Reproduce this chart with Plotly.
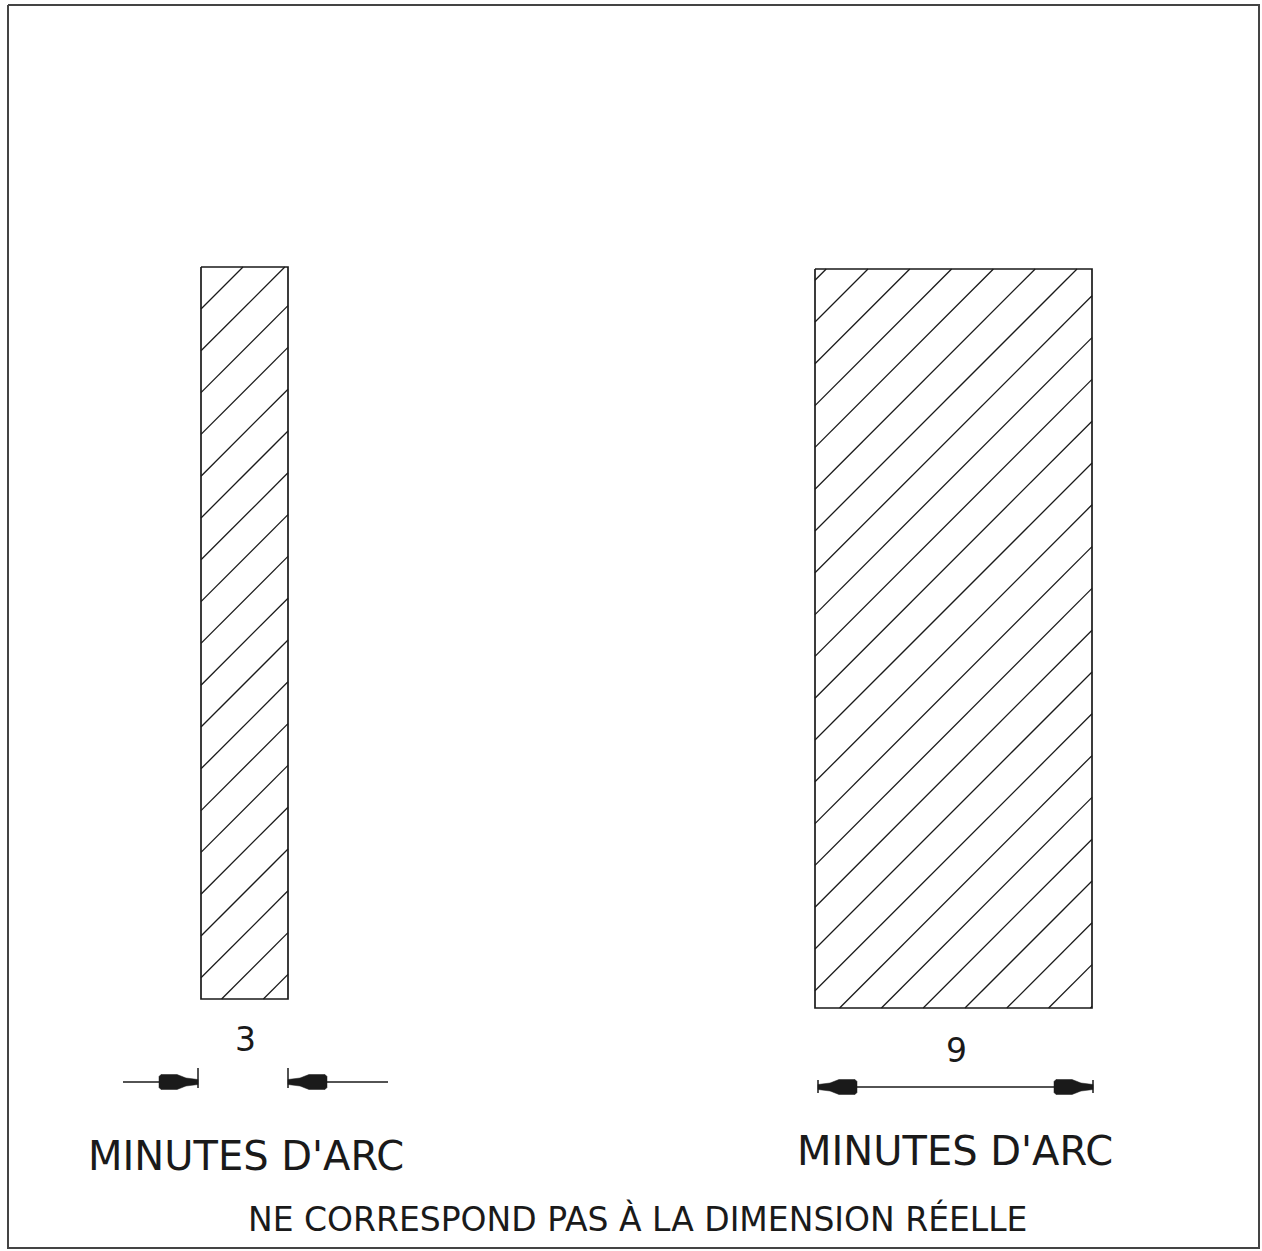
import math

import plotly.graph_objects as go

# Content of the drawing
WIDTHS_ARCMIN = [3, 9]
WIDTH_LABELS = [str(w) for w in WIDTHS_ARCMIN]
UNIT_LABEL = "MINUTES D'ARC"
NOTE = "NE CORRESPOND PAS À LA DIMENSION RÉELLE"

# Page geometry, in pixels with y pointing down (axes map 1:1 to the page)
W, H = 1262, 1251
INK = "#1a1a1a"
FONT = "DejaVu Sans, Liberation Sans, Arial, sans-serif"
FRAME = (8, 5, 1259, 1248)
HATCH_STEP = 41.8

BARS = [
    dict(x0=201, x1=288, y0=267, y1=999, hatch0=510),
    dict(x0=815, x1=1092, y0=269, y1=1008, hatch0=1137),
]
DIMS = [
    dict(y=1082, ticks=(198, 288), tick_span=(-14, 6),
         segments=[(123, 198), (288, 388)], arrows=[(198, 1), (288, -1)],
         label_xy=(245, 1039), unit_xy=(246, 1156)),
    dict(y=1087, ticks=(818, 1093), tick_span=(-7, 6),
         segments=[(818, 1093)], arrows=[(818, -1), (1093, 1)],
         label_xy=(956, 1050), unit_xy=(955, 1151)),
]
NOTE_XY = (637, 1219)

# arrowhead outline: (distance back from tip, half-offset across the line)
HEAD = [(0, -2.5), (12, -4), (21, -7.5), (37, -7.5), (39, -5.5),
        (39, 5.5), (37, 7.5), (21, 7.5), (12, 4), (0, 2.5)]


def _line(xs, ys, width=1.5, color=INK):
    return go.Scatter(x=xs, y=ys, mode="lines", hoverinfo="skip",
                      line=dict(color=color, width=width), showlegend=False)


def hatch(bar):
    """45 degree hatch segments (x + y = c) clipped to a rectangle."""
    x0, x1, y0, y1, c0 = bar["x0"], bar["x1"], bar["y0"], bar["y1"], bar["hatch0"]
    k_lo = math.ceil((x0 + y0 - c0) / HATCH_STEP)
    k_hi = math.floor((x1 + y1 - c0) / HATCH_STEP)
    xs, ys = [], []
    for k in range(k_lo, k_hi + 1):
        c = c0 + k * HATCH_STEP
        xa, xb = max(x0, c - y1), min(x1, c - y0)
        if xb - xa < 0.5:
            continue
        xs += [xa, xb, None]
        ys += [c - xa, c - xb, None]
    return xs, ys


fig = go.Figure()

# outer frame
fx0, fy0, fx1, fy1 = FRAME
fig.add_trace(_line([fx0, fx1, fx1, fx0, fx0], [fy0, fy0, fy1, fy1, fy0],
                    width=2, color="#444"))

for bar in BARS:
    hx, hy = hatch(bar)
    fig.add_trace(_line(hx, hy, width=1.3))
    fig.add_trace(_line(
        [bar["x0"], bar["x1"], bar["x1"], bar["x0"], bar["x0"]],
        [bar["y0"], bar["y0"], bar["y1"], bar["y1"], bar["y0"]],
        width=1.7,
    ))

annotations = []
for dim, label in zip(DIMS, WIDTH_LABELS):
    y = dim["y"]
    for a, b in dim["segments"]:
        fig.add_trace(_line([a, b], [y, y], width=1.5))
    for tx in dim["ticks"]:
        fig.add_trace(_line([tx, tx], [y + dim["tick_span"][0], y + dim["tick_span"][1]],
                            width=1.5))
    for tip, d in dim["arrows"]:
        px = [tip - d * back for back, _ in HEAD] + [tip - d * HEAD[0][0]]
        py = [y + off for _, off in HEAD] + [y + HEAD[0][1]]
        fig.add_trace(go.Scatter(x=px, y=py, mode="lines", fill="toself",
                                 fillcolor=INK, line=dict(color=INK, width=0.5),
                                 hoverinfo="skip", showlegend=False))
    annotations.append(dict(x=dim["label_xy"][0], y=dim["label_xy"][1], text=label,
                            font=dict(size=33)))
    annotations.append(dict(x=dim["unit_xy"][0], y=dim["unit_xy"][1], text=UNIT_LABEL,
                            font=dict(size=40)))

annotations.append(dict(x=NOTE_XY[0], y=NOTE_XY[1], text=NOTE, font=dict(size=33)))

for ann in annotations:
    ann.update(xref="x", yref="y", showarrow=False, xanchor="center", yanchor="middle")
    ann["font"].update(family=FONT, color=INK)

fig.update_layout(
    width=W,
    height=H,
    autosize=False,
    margin=dict(l=0, r=0, t=0, b=0),
    paper_bgcolor="white",
    plot_bgcolor="white",
    annotations=annotations,
    xaxis=dict(range=[0, W], visible=False, fixedrange=True),
    yaxis=dict(range=[H, 0], visible=False, fixedrange=True),
)

fig.write_html("out.html", config={"displayModeBar": False},
               post_script="document.body.style.margin='0';")
